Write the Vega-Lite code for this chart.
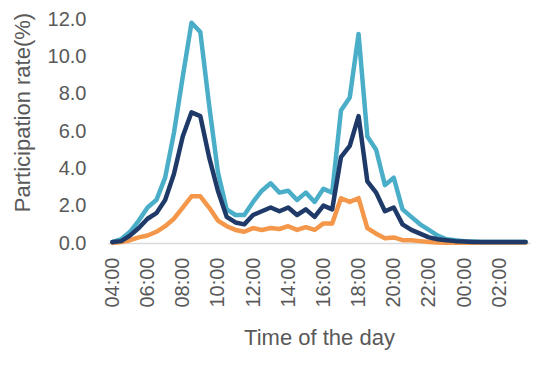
{
  "$schema": "https://vega.github.io/schema/vega-lite/v6.json",
  "autosize": {"type": "none"},
  "padding": {"left": 108, "top": 19, "right": 14, "bottom": 138},
  "width": 422,
  "height": 224,
  "background": "white",
  "config": {
    "view": {"stroke": null},
    "font": "Liberation Sans"
  },
  "data": {
    "values": [
      {"t": "04:00", "blue": 0.05, "navy": 0.05, "orange": 0.0},
      {"t": "04:30", "blue": 0.2, "navy": 0.1, "orange": 0.05},
      {"t": "05:00", "blue": 0.6, "navy": 0.4, "orange": 0.15},
      {"t": "05:30", "blue": 1.2, "navy": 0.8, "orange": 0.3},
      {"t": "06:00", "blue": 1.9, "navy": 1.3, "orange": 0.4},
      {"t": "06:30", "blue": 2.3, "navy": 1.6, "orange": 0.6},
      {"t": "07:00", "blue": 3.5, "navy": 2.3, "orange": 0.9},
      {"t": "07:30", "blue": 5.9, "navy": 3.7, "orange": 1.3},
      {"t": "08:00", "blue": 8.9, "navy": 5.7, "orange": 1.9},
      {"t": "08:30", "blue": 11.8, "navy": 7.0, "orange": 2.5},
      {"t": "09:00", "blue": 11.3, "navy": 6.8, "orange": 2.5},
      {"t": "09:30", "blue": 7.4, "navy": 4.6, "orange": 1.9},
      {"t": "10:00", "blue": 3.8, "navy": 2.8, "orange": 1.2},
      {"t": "10:30", "blue": 1.8, "navy": 1.4, "orange": 0.9},
      {"t": "11:00", "blue": 1.5, "navy": 1.1, "orange": 0.7},
      {"t": "11:30", "blue": 1.5, "navy": 1.0, "orange": 0.6},
      {"t": "12:00", "blue": 2.2, "navy": 1.5, "orange": 0.8},
      {"t": "12:30", "blue": 2.8, "navy": 1.7, "orange": 0.7},
      {"t": "13:00", "blue": 3.2, "navy": 1.9, "orange": 0.8},
      {"t": "13:30", "blue": 2.7, "navy": 1.7, "orange": 0.75},
      {"t": "14:00", "blue": 2.8, "navy": 1.9, "orange": 0.9},
      {"t": "14:30", "blue": 2.3, "navy": 1.5, "orange": 0.7},
      {"t": "15:00", "blue": 2.7, "navy": 1.8, "orange": 0.85},
      {"t": "15:30", "blue": 2.2, "navy": 1.4, "orange": 0.7},
      {"t": "16:00", "blue": 2.9, "navy": 2.0, "orange": 1.05},
      {"t": "16:30", "blue": 2.7, "navy": 1.8, "orange": 1.05},
      {"t": "17:00", "blue": 7.1, "navy": 4.6, "orange": 2.4},
      {"t": "17:30", "blue": 7.8, "navy": 5.2, "orange": 2.2},
      {"t": "18:00", "blue": 11.2, "navy": 6.8, "orange": 2.4},
      {"t": "18:30", "blue": 5.7, "navy": 3.3, "orange": 0.8},
      {"t": "19:00", "blue": 5.0, "navy": 2.7, "orange": 0.5},
      {"t": "19:30", "blue": 3.1, "navy": 1.7, "orange": 0.25},
      {"t": "20:00", "blue": 3.5, "navy": 1.9, "orange": 0.3},
      {"t": "20:30", "blue": 1.8, "navy": 1.0, "orange": 0.15},
      {"t": "21:00", "blue": 1.4, "navy": 0.7, "orange": 0.15},
      {"t": "21:30", "blue": 1.0, "navy": 0.5, "orange": 0.1},
      {"t": "22:00", "blue": 0.7, "navy": 0.3, "orange": 0.05},
      {"t": "22:30", "blue": 0.4, "navy": 0.2, "orange": 0.03},
      {"t": "23:00", "blue": 0.2, "navy": 0.15, "orange": 0.02},
      {"t": "23:30", "blue": 0.15, "navy": 0.1, "orange": 0.02},
      {"t": "00:00", "blue": 0.1, "navy": 0.08, "orange": 0.01},
      {"t": "00:30", "blue": 0.08, "navy": 0.06, "orange": 0.01},
      {"t": "01:00", "blue": 0.06, "navy": 0.05, "orange": 0.01},
      {"t": "01:30", "blue": 0.05, "navy": 0.05, "orange": 0.01},
      {"t": "02:00", "blue": 0.05, "navy": 0.05, "orange": 0.01},
      {"t": "02:30", "blue": 0.05, "navy": 0.05, "orange": 0.01},
      {"t": "03:00", "blue": 0.05, "navy": 0.05, "orange": 0.01},
      {"t": "03:30", "blue": 0.05, "navy": 0.05, "orange": 0.01}
    ]
  },
  "transform": [
    {"fold": ["orange", "blue", "navy"], "as": ["series", "value"]}
  ],
  "mark": {"type": "line", "strokeWidth": 4.5, "strokeJoin": "round", "strokeCap": "round"},
  "encoding": {
    "x": {
      "field": "t",
      "type": "ordinal",
      "sort": null,
      "scale": {"type": "point", "padding": 0.5},
      "axis": {
        "title": "Time of the day",
        "values": ["04:00", "06:00", "08:00", "10:00", "12:00", "14:00", "16:00", "18:00", "20:00", "22:00", "00:00", "02:00"],
        "labelAngle": -90,
        "labelFontSize": 20,
        "labelColor": "#595959",
        "labelPadding": 14,
        "labelOverlap": false,
        "ticks": false,
        "tickSize": 0,
        "domain": true,
        "domainColor": "#d9d9d9",
        "domainWidth": 1.5,
        "grid": false,
        "titleFontSize": 22,
        "titleFontWeight": "normal",
        "titleColor": "#595959",
        "titleX": 211,
        "titleY": 94,
        "titleBaseline": "middle",
        "titleAlign": "center"
      }
    },
    "y": {
      "field": "value",
      "type": "quantitative",
      "scale": {"domain": [0, 12], "nice": false},
      "axis": {
        "title": "Participation rate(%)",
        "values": [0, 2, 4, 6, 8, 10, 12],
        "format": ".1f",
        "labelFontSize": 20,
        "labelColor": "#595959",
        "labelPadding": 22,
        "labelOverlap": false,
        "labelBound": false,
        "ticks": false,
        "tickSize": 0,
        "domain": false,
        "grid": false,
        "titleFontSize": 22,
        "titleFontWeight": "normal",
        "titleColor": "#595959",
        "titleX": -86,
        "titleY": 93,
        "titleAngle": -90,
        "titleAlign": "center",
        "titleBaseline": "middle"
      }
    },
    "color": {
      "field": "series",
      "type": "nominal",
      "sort": ["orange", "blue", "navy"],
      "scale": {"domain": ["orange", "blue", "navy"], "range": ["#f4974a", "#4aaec8", "#1f3a68"]},
      "legend": null
    }
  }
}
